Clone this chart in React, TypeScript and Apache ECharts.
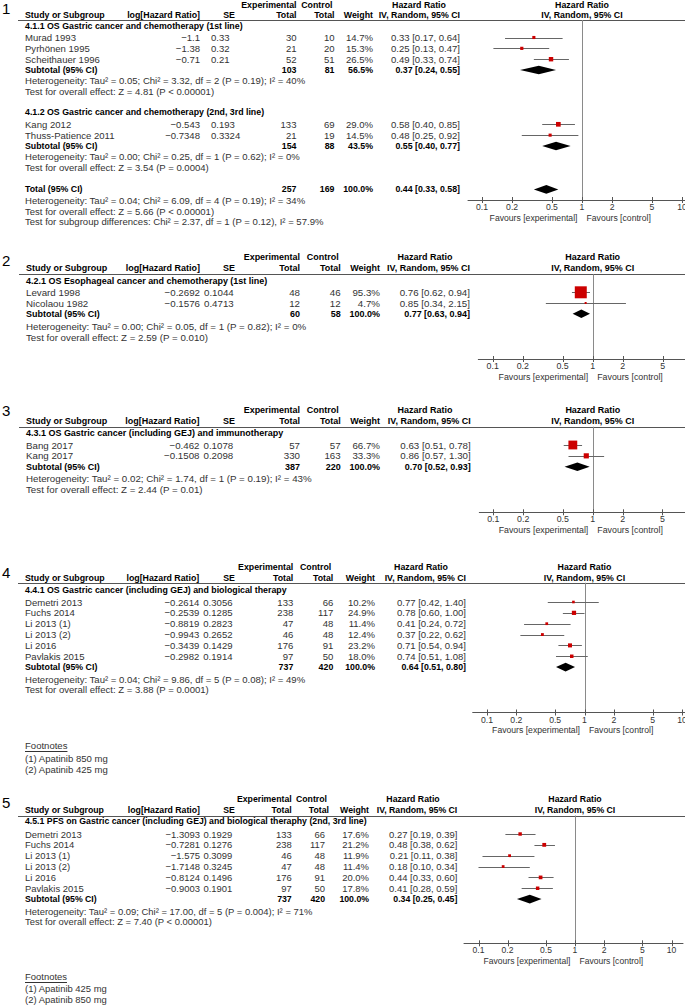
import React, { useEffect, useRef } from "react";
import * as echarts from "echarts";

// ---------------- Panel 1 ----------------
const p1Sections = [
  "4.1.1 OS Gastric cancer and chemotherapy (1st line)",
  "4.1.2 OS Gastric cancer and chemotherapy (2nd, 3rd line)",
];
const p1Studies = ["Murad 1993", "Pyrhönen 1995", "Scheithauer 1996", "Kang 2012", "Thuss-Patience 2011"];
const p1LogHR = [-1.1, -1.38, -0.71, -0.543, -0.7348];
const p1SE = [0.33, 0.32, 0.21, 0.193, 0.3324];
const p1Exp = [30, 21, 52, 133, 21];
const p1Ctrl = [10, 20, 51, 69, 19];
const p1Weight = [14.7, 15.3, 26.5, 29.0, 14.5];
const p1HR = [0.33, 0.25, 0.49, 0.58, 0.48];
const p1Lo = [0.17, 0.13, 0.33, 0.4, 0.25];
const p1Hi = [0.64, 0.47, 0.74, 0.85, 0.92];
const p1SubLabels = ["Subtotal (95% CI)", "Subtotal (95% CI)", "Total (95% CI)"];
const p1SubExp = [103, 154, 257];
const p1SubCtrl = [81, 88, 169];
const p1SubWeight = [56.5, 43.5, 100.0];
const p1SubHR = [0.37, 0.55, 0.44];
const p1SubLo = [0.24, 0.4, 0.33];
const p1SubHi = [0.55, 0.77, 0.58];
const p1Notes = [
  "Heterogeneity: Tau² = 0.05; Chi² = 3.32, df = 2 (P = 0.19); I² = 40%",
  "Test for overall effect: Z = 4.81 (P < 0.00001)",
  "Heterogeneity: Tau² = 0.00; Chi² = 0.25, df = 1 (P = 0.62); I² = 0%",
  "Test for overall effect: Z = 3.54 (P = 0.0004)",
  "Heterogeneity: Tau² = 0.04; Chi² = 6.09, df = 4 (P = 0.19); I² = 34%",
  "Test for overall effect: Z = 5.66 (P < 0.00001)",
  "Test for subgroup differences: Chi² = 2.37, df = 1 (P = 0.12), I² = 57.9%",
];

// ---------------- Panel 2 ----------------
const p2Sections = ["4.2.1 OS Esophageal cancer and chemotherapy (1st line)"];
const p2Studies = ["Levard 1998", "Nicolaou 1982"];
const p2LogHR = [-0.2692, -0.1576];
const p2SE = [0.1044, 0.4713];
const p2Exp = [48, 12];
const p2Ctrl = [46, 12];
const p2Weight = [95.3, 4.7];
const p2HR = [0.76, 0.85];
const p2Lo = [0.62, 0.34];
const p2Hi = [0.94, 2.15];
const p2SubLabels = ["Subtotal (95% CI)"];
const p2SubExp = [60];
const p2SubCtrl = [58];
const p2SubWeight = [100.0];
const p2SubHR = [0.77];
const p2SubLo = [0.63];
const p2SubHi = [0.94];
const p2Notes = [
  "Heterogeneity: Tau² = 0.00; Chi² = 0.05, df = 1 (P = 0.82); I² = 0%",
  "Test for overall effect: Z = 2.59 (P = 0.010)",
];

// ---------------- Panel 3 ----------------
const p3Sections = ["4.3.1 OS Gastric cancer (including GEJ) and immunotherapy"];
const p3Studies = ["Bang 2017", "Kang 2017"];
const p3LogHR = [-0.462, -0.1508];
const p3SE = [0.1078, 0.2098];
const p3Exp = [57, 330];
const p3Ctrl = [57, 163];
const p3Weight = [66.7, 33.3];
const p3HR = [0.63, 0.86];
const p3Lo = [0.51, 0.57];
const p3Hi = [0.78, 1.3];
const p3SubLabels = ["Subtotal (95% CI)"];
const p3SubExp = [387];
const p3SubCtrl = [220];
const p3SubWeight = [100.0];
const p3SubHR = [0.7];
const p3SubLo = [0.52];
const p3SubHi = [0.93];
const p3Notes = [
  "Heterogeneity: Tau² = 0.02; Chi² = 1.74, df = 1 (P = 0.19); I² = 43%",
  "Test for overall effect: Z = 2.44 (P = 0.01)",
];

// ---------------- Panel 4 ----------------
const p4Sections = ["4.4.1 OS Gastric cancer (including GEJ) and biological therapy"];
const p4Studies = ["Demetri 2013", "Fuchs 2014", "Li 2013 (1)", "Li 2013 (2)", "Li 2016", "Pavlakis 2015"];
const p4LogHR = [-0.2614, -0.2539, -0.8819, -0.9943, -0.3439, -0.2982];
const p4SE = [0.3056, 0.1285, 0.2823, 0.2652, 0.1429, 0.1914];
const p4Exp = [133, 238, 47, 46, 176, 97];
const p4Ctrl = [66, 117, 48, 48, 91, 50];
const p4Weight = [10.2, 24.9, 11.4, 12.4, 23.2, 18.0];
const p4HR = [0.77, 0.78, 0.41, 0.37, 0.71, 0.74];
const p4Lo = [0.42, 0.6, 0.24, 0.22, 0.54, 0.51];
const p4Hi = [1.4, 1.0, 0.72, 0.62, 0.94, 1.08];
const p4SubLabels = ["Subtotal (95% CI)"];
const p4SubExp = [737];
const p4SubCtrl = [420];
const p4SubWeight = [100.0];
const p4SubHR = [0.64];
const p4SubLo = [0.51];
const p4SubHi = [0.8];
const p4Notes = [
  "Heterogeneity: Tau² = 0.04; Chi² = 9.86, df = 5 (P = 0.08); I² = 49%",
  "Test for overall effect: Z = 3.88 (P = 0.0001)",
];
const p4Footnotes = ["Footnotes", "(1) Apatinib 850 mg", "(2) Apatinib 425 mg"];

// ---------------- Panel 5 ----------------
const p5Sections = ["4.5.1 PFS on Gastric cancer (including GEJ) and biological theraphy (2nd, 3rd line)"];
const p5Studies = ["Demetri 2013", "Fuchs 2014", "Li 2013 (1)", "Li 2013 (2)", "Li 2016", "Pavlakis 2015"];
const p5LogHR = [-1.3093, -0.7281, -1.575, -1.7148, -0.8124, -0.9003];
const p5SE = [0.1929, 0.1276, 0.3099, 0.3245, 0.1496, 0.1901];
const p5Exp = [133, 238, 46, 47, 176, 97];
const p5Ctrl = [66, 117, 48, 48, 91, 50];
const p5Weight = [17.6, 21.2, 11.9, 11.4, 20.0, 17.8];
const p5HR = [0.27, 0.48, 0.21, 0.18, 0.44, 0.41];
const p5Lo = [0.19, 0.38, 0.11, 0.1, 0.33, 0.28];
const p5Hi = [0.39, 0.62, 0.38, 0.34, 0.6, 0.59];
const p5SubLabels = ["Subtotal (95% CI)"];
const p5SubExp = [737];
const p5SubCtrl = [420];
const p5SubWeight = [100.0];
const p5SubHR = [0.34];
const p5SubLo = [0.25];
const p5SubHi = [0.45];
const p5Notes = [
  "Heterogeneity: Tau² = 0.09; Chi² = 17.00, df = 5 (P = 0.004); I² = 71%",
  "Test for overall effect: Z = 7.40 (P < 0.00001)",
];
const p5Footnotes = ["Footnotes", "(1) Apatinib 425 mg", "(2) Apatinib 850 mg"];

// ---------------- Axis ticks ----------------
const tickValues = [0.1, 0.2, 0.5, 1, 2, 5, 10];
const tickLabels = ["0.1", "0.2", "0.5", "1", "2", "5", "10"];

// ---------------- styling / layout ----------------
const FONT = "'Liberation Sans', Arial, sans-serif";
const NUMFONT = "'Liberation Sans', Arial, sans-serif";
const TXT = "#333";
const BOLD = "#000";
const RED = "#cc0000";

// text widths are fitted to widths measured on the reference picture
function measure(text: string, weight: string, size: number): number {
  try {
    const ctx = document.createElement("canvas").getContext("2d");
    if (!ctx) return 0;
    ctx.font = `${weight} ${size}px ${FONT}`;
    return ctx.measureText(text).width;
  } catch (e) {
    return 0;
  }
}
function fit(pairs: [string, number][], weight: string, fallback: number): number {
  let acc = 0;
  let n = 0;
  pairs.forEach(([t, w]) => {
    const m = measure(t, weight, 100);
    if (m > 0) {
      acc += (100 * w) / m;
      n++;
    }
  });
  return n ? acc / n : fallback;
}

interface PanelData {
  sections: string[];
  studies: string[];
  logHR: number[];
  se: number[];
  exp: number[];
  ctrl: number[];
  weight: number[];
  hr: number[];
  lo: number[];
  hi: number[];
  subLabels: string[];
  subExp: number[];
  subCtrl: number[];
  subWeight: number[];
  subHR: number[];
  subLo: number[];
  subHi: number[];
  notes: string[];
  footnotes?: string[];
}

interface Cols {
  name: number;
  logR: number;
  seL: number;
  seC: number;
  expR: number;
  ctrlR: number;
  ctrlHdrR: number;
  wR: number;
  hrR: number;
  hrHdrC: number;
}

interface Layout {
  num: string;
  numY: number;
  scale: number;
  hdr1Y: number;
  hdr2Y: number;
  lineY: number;
  lineX0: number;
  row1Y: number;
  pitch: number;
  axisY: number;
  x01: number;
  decade: number;
  axisStart: number;
  axisEnd: number;
  cols: Cols;
  sectionRows: number[];
  studyRows: number[];
  subRows: number[];
  noteRows: number[];
  footRows?: number[];
}

const panels: { d: PanelData; L: Layout }[] = [
  {
    d: {
      sections: p1Sections, studies: p1Studies, logHR: p1LogHR, se: p1SE, exp: p1Exp, ctrl: p1Ctrl,
      weight: p1Weight, hr: p1HR, lo: p1Lo, hi: p1Hi, subLabels: p1SubLabels, subExp: p1SubExp,
      subCtrl: p1SubCtrl, subWeight: p1SubWeight, subHR: p1SubHR, subLo: p1SubLo, subHi: p1SubHi, notes: p1Notes,
    },
    L: {
      num: "1", numY: 8, scale: 1, hdr1Y: 5, hdr2Y: 14.5, lineY: 20, lineX0: 18, row1Y: 37.5, pitch: 10.85, axisY: 200,
      x01: 482, decade: 100, axisStart: 468, axisEnd: 685,
      cols: { name: 25, logR: 200, seL: 211, seC: 229, expR: 296.5, ctrlR: 334.5, ctrlHdrR: 334.5, wR: 373, hrR: 460, hrHdrC: 419 },
      sectionRows: [0, 8], studyRows: [1, 2, 3, 9, 10], subRows: [4, 11, 15], noteRows: [5, 6, 12, 13, 16, 17, 18],
    },
  },
  {
    d: {
      sections: p2Sections, studies: p2Studies, logHR: p2LogHR, se: p2SE, exp: p2Exp, ctrl: p2Ctrl,
      weight: p2Weight, hr: p2HR, lo: p2Lo, hi: p2Hi, subLabels: p2SubLabels, subExp: p2SubExp,
      subCtrl: p2SubCtrl, subWeight: p2SubWeight, subHR: p2SubHR, subLo: p2SubLo, subHi: p2SubHi, notes: p2Notes,
    },
    L: {
      num: "2", numY: 260, scale: 1.02, hdr1Y: 256.7, hdr2Y: 268.3, lineY: 274.3, lineX0: 19, row1Y: 292.3, pitch: 10.7, axisY: 359,
      x01: 492.7, decade: 100, axisStart: 478.3, axisEnd: 685,
      cols: { name: 26, logR: 200, seL: 204, seC: 229, expR: 300, ctrlR: 340.7, ctrlHdrR: 340.7, wR: 380, hrR: 470, hrHdrC: 425 },
      sectionRows: [0], studyRows: [1, 2], subRows: [3], noteRows: [4.2, 5.2],
    },
  },
  {
    d: {
      sections: p3Sections, studies: p3Studies, logHR: p3LogHR, se: p3SE, exp: p3Exp, ctrl: p3Ctrl,
      weight: p3Weight, hr: p3HR, lo: p3Lo, hi: p3Hi, subLabels: p3SubLabels, subExp: p3SubExp,
      subCtrl: p3SubCtrl, subWeight: p3SubWeight, subHR: p3SubHR, subLo: p3SubLo, subHi: p3SubHi, notes: p3Notes,
    },
    L: {
      num: "3", numY: 410, scale: 1.02, hdr1Y: 410, hdr2Y: 420.7, lineY: 426.7, lineX0: 19, row1Y: 445, pitch: 10.85, axisY: 512.3,
      x01: 493.3, decade: 99.5, axisStart: 479.3, axisEnd: 685,
      cols: { name: 26, logR: 199.5, seL: 203.5, seC: 229, expR: 300, ctrlR: 340.7, ctrlHdrR: 340.7, wR: 380, hrR: 470.7, hrHdrC: 425 },
      sectionRows: [0], studyRows: [1, 2], subRows: [3], noteRows: [4.1, 5.1],
    },
  },
  {
    d: {
      sections: p4Sections, studies: p4Studies, logHR: p4LogHR, se: p4SE, exp: p4Exp, ctrl: p4Ctrl,
      weight: p4Weight, hr: p4HR, lo: p4Lo, hi: p4Hi, subLabels: p4SubLabels, subExp: p4SubExp,
      subCtrl: p4SubCtrl, subWeight: p4SubWeight, subHR: p4SubHR, subLo: p4SubLo, subHi: p4SubHi, notes: p4Notes,
      footnotes: p4Footnotes,
    },
    L: {
      num: "4", numY: 572, scale: 1, hdr1Y: 566.5, hdr2Y: 577.5, lineY: 582.8, lineX0: 18, row1Y: 602, pitch: 10.85, axisY: 712.5,
      x01: 487, decade: 97.5, axisStart: 472.7, axisEnd: 685,
      cols: { name: 25, logR: 199.3, seL: 203.3, seC: 229, expR: 293.3, ctrlR: 333.3, ctrlHdrR: 333.3, wR: 375, hrR: 466, hrHdrC: 421 },
      sectionRows: [0], studyRows: [1, 2, 3, 4, 5, 6], subRows: [7], noteRows: [8.1, 9.1], footRows: [14.27, 15.4, 16.4],
    },
  },
  {
    d: {
      sections: p5Sections, studies: p5Studies, logHR: p5LogHR, se: p5SE, exp: p5Exp, ctrl: p5Ctrl,
      weight: p5Weight, hr: p5HR, lo: p5Lo, hi: p5Hi, subLabels: p5SubLabels, subExp: p5SubExp,
      subCtrl: p5SubCtrl, subWeight: p5SubWeight, subHR: p5SubHR, subLo: p5SubLo, subHi: p5SubHi, notes: p5Notes,
      footnotes: p5Footnotes,
    },
    L: {
      num: "5", numY: 802, scale: 0.99, hdr1Y: 799, hdr2Y: 810, lineY: 815.5, lineX0: 18, row1Y: 834, pitch: 10.85, axisY: 943.3,
      x01: 478.5, decade: 96.5, axisStart: 464, axisEnd: 683,
      cols: { name: 25, logR: 200, seL: 203.5, seC: 229, expR: 291.7, ctrlR: 325, ctrlHdrR: 329, wR: 369, hrR: 457.3, hrHdrC: 413 },
      sectionRows: [-0.1], studyRows: [1, 2, 3, 4, 5, 6], subRows: [7], noteRows: [8.1, 9.1], footRows: [14.15, 15.22, 16.24],
    },
  },
];

interface TItem {
  x?: number;
  atOne?: number;
  text: string;
  align: "left" | "right" | "center";
  bold?: boolean;
  size?: number;
  family?: string;
  color?: string;
  underline?: boolean;
}
interface TRow {
  r: number;
  items: TItem[];
}

const fmtNum = (v: number) => String(v).replace("-", "\u2212");
const fmtHR = (h: number, l: number, u: number) => `${h.toFixed(2)} [${l.toFixed(2)}, ${u.toFixed(2)}]`;

function buildTextRows(d: PanelData, L: Layout): TRow[] {
  const rowOf = (y: number) => 1 + (y - L.row1Y) / L.pitch;
  const c = L.cols;
  const rows: TRow[] = [];
  rows.push({
    r: rowOf(L.numY),
    items: [{ x: 2, text: L.num, align: "left", size: 15, family: NUMFONT, color: "#000" }],
  });
  rows.push({
    r: rowOf(L.hdr1Y),
    items: [
      { x: c.expR, text: "Experimental", align: "right", bold: true },
      { x: c.ctrlHdrR - 2, text: "Control", align: "right", bold: true },
      { x: c.hrHdrC, text: "Hazard Ratio", align: "center", bold: true },
      { atOne: 0, text: "Hazard Ratio", align: "center", bold: true },
    ],
  });
  rows.push({
    r: rowOf(L.hdr2Y),
    items: [
      { x: c.name, text: "Study or Subgroup", align: "left", bold: true },
      { x: c.logR, text: "log[Hazard Ratio]", align: "right", bold: true },
      { x: c.seC, text: "SE", align: "center", bold: true },
      { x: c.expR, text: "Total", align: "right", bold: true },
      { x: c.ctrlHdrR, text: "Total", align: "right", bold: true },
      { x: c.wR, text: "Weight", align: "right", bold: true },
      { x: c.hrR, text: "IV, Random, 95% CI", align: "right", bold: true },
      { atOne: 0, text: "IV, Random, 95% CI", align: "center", bold: true },
    ],
  });
  d.sections.forEach((s, i) => {
    rows.push({ r: L.sectionRows[i] - 0.1, items: [{ x: c.name, text: s, align: "left", bold: true }] });
  });
  d.studies.forEach((s, i) => {
    rows.push({
      r: L.studyRows[i],
      items: [
        { x: c.name, text: s, align: "left" },
        { x: c.logR, text: fmtNum(d.logHR[i]), align: "right" },
        { x: c.seL, text: fmtNum(d.se[i]), align: "left" },
        { x: c.expR, text: String(d.exp[i]), align: "right" },
        { x: c.ctrlR, text: String(d.ctrl[i]), align: "right" },
        { x: c.wR, text: d.weight[i].toFixed(1) + "%", align: "right" },
        { x: c.hrR, text: fmtHR(d.hr[i], d.lo[i], d.hi[i]), align: "right" },
      ],
    });
  });
  d.subLabels.forEach((s, i) => {
    rows.push({
      r: L.subRows[i],
      items: [
        { x: c.name, text: s, align: "left", bold: true },
        { x: c.expR, text: String(d.subExp[i]), align: "right", bold: true },
        { x: c.ctrlR, text: String(d.subCtrl[i]), align: "right", bold: true },
        { x: c.wR, text: d.subWeight[i].toFixed(1) + "%", align: "right", bold: true },
        { x: c.hrR, text: fmtHR(d.subHR[i], d.subLo[i], d.subHi[i]), align: "right", bold: true },
      ],
    });
  });
  d.notes.forEach((s, i) => {
    rows.push({ r: L.noteRows[i], items: [{ x: c.name, text: s, align: "left" }] });
  });
  if (d.footnotes && L.footRows) {
    d.footnotes.forEach((s, i) => {
      rows.push({
        r: L.footRows![i],
        items: [{ x: c.name, text: s, align: "left", underline: i === 0 }],
      });
    });
  }
  return rows;
}

const crisp = (v: number) => Math.round(v) + 0.5;

function buildOption() {
  const FS = fit(
    [
      ["Heterogeneity: Tau² = 0.05; Chi² = 3.32, df = 2 (P = 0.19); I² = 40%", 278],
      ["0.33 [0.17, 0.64]", 71],
      ["Murad 1993", 50],
    ],
    "normal",
    9.4
  );
  const FSB = fit(
    [
      ["Study or Subgroup", 78],
      ["Subtotal (95% CI)", 75],
      ["4.1.1 OS Gastric cancer and chemotherapy (1st line)", 215],
    ],
    "bold",
    8.8
  );
  const FSA = fit([["Favours [experimental]", 88]], "normal", 8.6);

  const grid: any[] = [];
  const xAxis: any[] = [];
  const yAxis: any[] = [];
  const series: any[] = [];

  panels.forEach(({ d, L }, idx) => {
    const rLine = 1 - (L.row1Y - L.lineY) / L.pitch;
    const rAxis = 1 + (L.axisY - L.row1Y) / L.pitch;
    const xmin = -1 - (L.x01 - L.axisStart) / L.decade;
    const xmax = -1 + (L.axisEnd - L.x01) / L.decade;
    const fs = FS * L.scale;
    const fsb = FSB * L.scale;
    const fsa = FSA * L.scale;

    grid.push({
      left: L.axisStart,
      top: L.lineY,
      width: L.axisEnd - L.axisStart,
      height: L.axisY - L.lineY,
      containLabel: false,
    });
    xAxis.push({
      gridIndex: idx,
      type: "value",
      min: xmin,
      max: xmax,
      axisLine: { show: true, onZero: false, lineStyle: { color: "#555", width: 1 } },
      axisTick: { show: false },
      axisLabel: { show: false },
      splitLine: { show: false },
    });
    yAxis.push({
      gridIndex: idx,
      type: "value",
      inverse: true,
      min: rLine,
      max: rAxis,
      show: false,
      splitLine: { show: false },
    });

    const base = { type: "custom", xAxisIndex: idx, yAxisIndex: idx, clip: false, silent: true, animation: false };

    // Frame: header rule, no-effect line, favours captions
    series.push({
      ...base,
      data: [[0, rLine]],
      encode: { x: 0, y: 1 },
      renderItem: (_p: any, api: any) => {
        const top = api.coord([0, rLine]);
        const bot = api.coord([0, rAxis]);
        const x1 = crisp(top[0]);
        return {
          type: "group",
          children: [
            {
              type: "line",
              shape: { x1: L.lineX0, y1: crisp(top[1]), x2: 685, y2: crisp(top[1]) },
              style: { stroke: "#555", lineWidth: 1 },
            },
            {
              type: "line",
              shape: { x1, y1: top[1], x2: x1, y2: bot[1] },
              style: { stroke: "#8a8a8a", lineWidth: 1 },
            },
            {
              type: "text",
              style: {
                x: top[0] - 4.5, y: bot[1] + 17.5, text: "Favours [experimental]", align: "right",
                verticalAlign: "middle", fontSize: fsa, fontFamily: FONT, fill: TXT,
              },
            },
            {
              type: "text",
              style: {
                x: top[0] + 4.5, y: bot[1] + 17.5, text: "Favours [control]", align: "left",
                verticalAlign: "middle", fontSize: fsa, fontFamily: FONT, fill: TXT,
              },
            },
          ],
        };
      },
    });

    // Ticks and tick labels
    const tickData = tickValues
      .map((v, i) => [Math.log10(v), rAxis, i])
      .filter((t) => t[0] >= xmin && t[0] <= xmax);
    series.push({
      ...base,
      data: tickData,
      encode: { x: 0, y: 1 },
      renderItem: (_p: any, api: any) => {
        const pt = api.coord([api.value(0), api.value(1)]);
        const x = crisp(pt[0]);
        return {
          type: "group",
          children: [
            { type: "line", shape: { x1: x, y1: pt[1] - 3, x2: x, y2: pt[1] + 3 }, style: { stroke: "#555", lineWidth: 1 } },
            {
              type: "text",
              style: {
                x: pt[0], y: pt[1] + 7, text: tickLabels[api.value(2)], align: "center",
                verticalAlign: "middle", fontSize: fsa, fontFamily: FONT, fill: TXT,
              },
            },
          ],
        };
      },
    });

    // Study CIs and squares
    series.push({
      ...base,
      data: d.hr.map((h, i) => [Math.log10(h), Math.log10(d.lo[i]), Math.log10(d.hi[i]), L.studyRows[i], d.weight[i]]),
      encode: { x: [0, 1, 2], y: 3 },
      renderItem: (_p: any, api: any) => {
        const r = api.value(3);
        const c = api.coord([api.value(0), r]);
        const l = api.coord([api.value(1), r]);
        const h = api.coord([api.value(2), r]);
        const s = Math.max(2, 1.5 + 0.11 * api.value(4));
        const y = crisp(c[1]);
        return {
          type: "group",
          children: [
            { type: "line", shape: { x1: l[0], y1: y, x2: h[0], y2: y }, style: { stroke: "#666", lineWidth: 1 } },
            { type: "rect", shape: { x: c[0] - s / 2, y: c[1] - s / 2, width: s, height: s }, style: { fill: RED } },
          ],
        };
      },
    });

    // Pooled diamonds
    series.push({
      ...base,
      data: d.subHR.map((h, i) => [Math.log10(h), Math.log10(d.subLo[i]), Math.log10(d.subHi[i]), L.subRows[i]]),
      encode: { x: [0, 1, 2], y: 3 },
      renderItem: (_p: any, api: any) => {
        const r = api.value(3);
        const c = api.coord([api.value(0), r]);
        const l = api.coord([api.value(1), r]);
        const h = api.coord([api.value(2), r]);
        const hh = 4.3;
        return {
          type: "polygon",
          shape: { points: [[l[0], c[1]], [c[0], c[1] - hh], [h[0], c[1]], [c[0], c[1] + hh]] },
          style: { fill: "#000" },
        };
      },
    });

    // Table text
    const rows = buildTextRows(d, L);
    series.push({
      ...base,
      data: rows.map((r) => [0, r.r]),
      encode: { x: 0, y: 1 },
      renderItem: (p: any, api: any) => {
        const row = rows[p.dataIndex];
        const pt = api.coord([0, row.r]);
        const y = pt[1];
        const children: any[] = [];
        row.items.forEach((it) => {
          const x = it.atOne !== undefined ? pt[0] + it.atOne : (it.x as number);
          const size = it.size ?? (it.bold ? fsb : fs);
          children.push({
            type: "text",
            style: {
              x, y, text: it.text, align: it.align, verticalAlign: "middle",
              fontSize: size, fontFamily: it.family ?? FONT,
              fontWeight: it.bold ? "bold" : "normal",
              fill: it.color ?? (it.bold ? BOLD : TXT),
            },
          });
          if (it.underline) {
            const w = measure(it.text, "normal", size) || 40;
            children.push({
              type: "line",
              shape: { x1: x, y1: crisp(y + 5), x2: x + w, y2: crisp(y + 5) },
              style: { stroke: TXT, lineWidth: 1 },
            });
          }
        });
        return { type: "group", children };
      },
    });
  });

  return {
    animation: false,
    backgroundColor: "#fff",
    grid,
    xAxis,
    yAxis,
    series,
  };
}

export default function App() {
  const ref = useRef<HTMLDivElement>(null);
  useEffect(() => {
    document.body.style.margin = "0";
    document.body.style.overflow = "hidden";
    if (!ref.current) return;
    const chart = echarts.init(ref.current, undefined, { renderer: "svg" });
    chart.setOption(buildOption() as any);
    return () => chart.dispose();
  }, []);
  return <div ref={ref} style={{ width: 685, height: 1005 }} />;
}
